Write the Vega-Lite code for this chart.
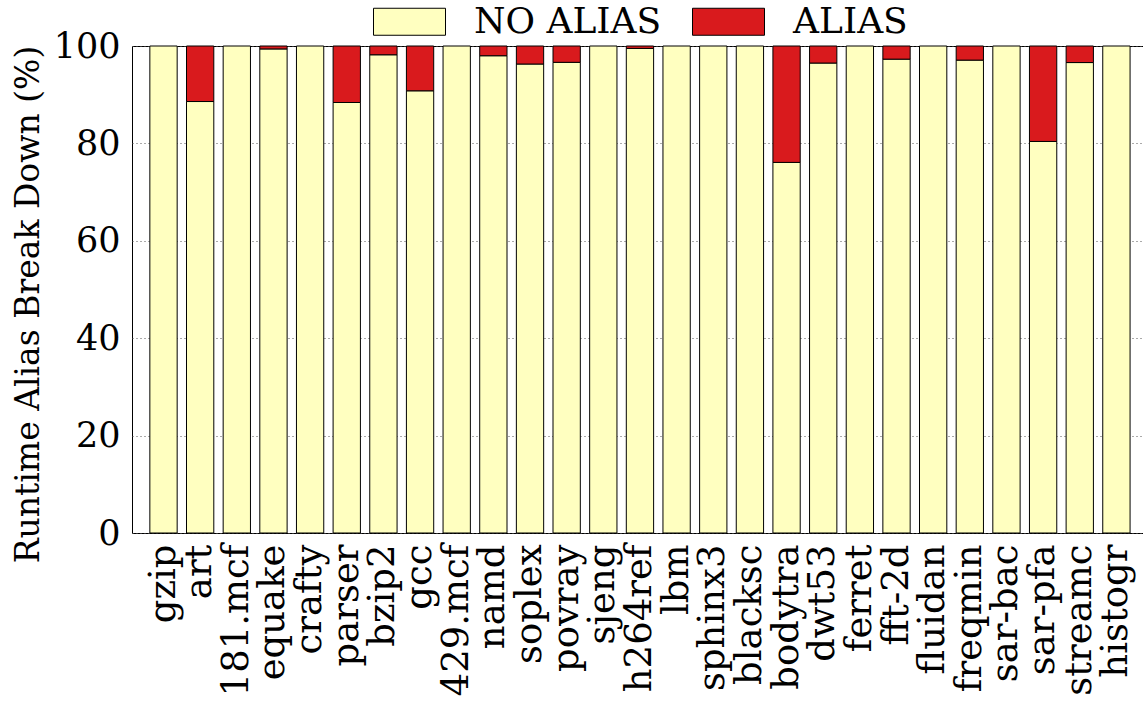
{
  "$schema": "https://vega.github.io/schema/vega-lite/v6.json",
  "width": 1011,
  "height": 487,
  "autosize": {"type": "none"},
  "padding": {"left": 132, "top": 46, "right": 0, "bottom": 170},
  "background": "white",
  "data": {
    "values": [
      {"benchmark": "gzip", "kind": "NO ALIAS", "pct": 100},
      {"benchmark": "art", "kind": "NO ALIAS", "pct": 88.6},
      {"benchmark": "art", "kind": "ALIAS", "pct": 11.4},
      {"benchmark": "181.mcf", "kind": "NO ALIAS", "pct": 100},
      {"benchmark": "equake", "kind": "NO ALIAS", "pct": 99.4},
      {"benchmark": "equake", "kind": "ALIAS", "pct": 0.6},
      {"benchmark": "crafty", "kind": "NO ALIAS", "pct": 100},
      {"benchmark": "parser", "kind": "NO ALIAS", "pct": 88.4},
      {"benchmark": "parser", "kind": "ALIAS", "pct": 11.6},
      {"benchmark": "bzip2", "kind": "NO ALIAS", "pct": 98.2},
      {"benchmark": "bzip2", "kind": "ALIAS", "pct": 1.8},
      {"benchmark": "gcc", "kind": "NO ALIAS", "pct": 90.8},
      {"benchmark": "gcc", "kind": "ALIAS", "pct": 9.2},
      {"benchmark": "429.mcf", "kind": "NO ALIAS", "pct": 100},
      {"benchmark": "namd", "kind": "NO ALIAS", "pct": 98.0},
      {"benchmark": "namd", "kind": "ALIAS", "pct": 2.0},
      {"benchmark": "soplex", "kind": "NO ALIAS", "pct": 96.3},
      {"benchmark": "soplex", "kind": "ALIAS", "pct": 3.7},
      {"benchmark": "povray", "kind": "NO ALIAS", "pct": 96.65},
      {"benchmark": "povray", "kind": "ALIAS", "pct": 3.35},
      {"benchmark": "sjeng", "kind": "NO ALIAS", "pct": 100},
      {"benchmark": "h264ref", "kind": "NO ALIAS", "pct": 99.5},
      {"benchmark": "h264ref", "kind": "ALIAS", "pct": 0.5},
      {"benchmark": "lbm", "kind": "NO ALIAS", "pct": 100},
      {"benchmark": "sphinx3", "kind": "NO ALIAS", "pct": 100},
      {"benchmark": "blacksc", "kind": "NO ALIAS", "pct": 100},
      {"benchmark": "bodytra", "kind": "NO ALIAS", "pct": 76.1},
      {"benchmark": "bodytra", "kind": "ALIAS", "pct": 23.9},
      {"benchmark": "dwt53", "kind": "NO ALIAS", "pct": 96.5},
      {"benchmark": "dwt53", "kind": "ALIAS", "pct": 3.5},
      {"benchmark": "ferret", "kind": "NO ALIAS", "pct": 100},
      {"benchmark": "fft-2d", "kind": "NO ALIAS", "pct": 97.3},
      {"benchmark": "fft-2d", "kind": "ALIAS", "pct": 2.7},
      {"benchmark": "fluidan", "kind": "NO ALIAS", "pct": 100},
      {"benchmark": "freqmin", "kind": "NO ALIAS", "pct": 97.1},
      {"benchmark": "freqmin", "kind": "ALIAS", "pct": 2.9},
      {"benchmark": "sar-bac", "kind": "NO ALIAS", "pct": 100},
      {"benchmark": "sar-pfa", "kind": "NO ALIAS", "pct": 80.4},
      {"benchmark": "sar-pfa", "kind": "ALIAS", "pct": 19.6},
      {"benchmark": "streamc", "kind": "NO ALIAS", "pct": 96.6},
      {"benchmark": "streamc", "kind": "ALIAS", "pct": 3.4},
      {"benchmark": "histogr", "kind": "NO ALIAS", "pct": 100}
    ]
  },
  "mark": {"type": "bar", "stroke": "black", "strokeWidth": 1},
  "encoding": {
    "x": {
      "field": "benchmark",
      "type": "nominal",
      "sort": null,
      "scale": {"paddingInner": 0.255, "paddingOuter": 0.42, "align": 0.58},
      "axis": {
        "title": null,
        "labelAngle": -90,
        "labelFontSize": 37,
        "labelColor": "black",
        "labelPadding": 11,
        "ticks": false,
        "domain": false,
        "labelOverlap": false
      }
    },
    "y": {
      "field": "pct",
      "type": "quantitative",
      "stack": "zero",
      "scale": {"domain": [0, 100], "nice": false},
      "axis": {
        "title": "Runtime Alias Break Down (%)",
        "titleFontSize": 33,
        "titleFontWeight": "normal",
        "titleColor": "black",
        "titlePadding": 8,
        "titleY": 258,
        "values": [0, 20, 40, 60, 80, 100],
        "labelFontSize": 35,
        "labelColor": "black",
        "labelPadding": 12,
        "ticks": false,
        "domain": false,
        "grid": true,
        "gridDash": [1, 3],
        "gridColor": "#555555",
        "gridOpacity": 1,
        "gridWidth": 1
      }
    },
    "color": {
      "field": "kind",
      "type": "nominal",
      "scale": {"domain": ["NO ALIAS", "ALIAS"], "range": ["#ffffc0", "#d91a1d"]},
      "legend": {
        "title": null,
        "orient": "none",
        "legendX": 241,
        "legendY": -61,
        "direction": "horizontal",
        "symbolType": "M-1,-0.375H1V0.375H-1Z",
        "symbolSize": 5184,
        "symbolStrokeColor": "black",
        "symbolStrokeWidth": 1,
        "symbolOpacity": 1,
        "labelFontSize": 36,
        "labelColor": "black",
        "labelOffset": 28,
        "columnPadding": 28,
        "labelLimit": 400
      }
    }
  },
  "config": {
    "font": "DejaVu Serif",
    "view": {"stroke": "black", "strokeWidth": 1}
  }
}
